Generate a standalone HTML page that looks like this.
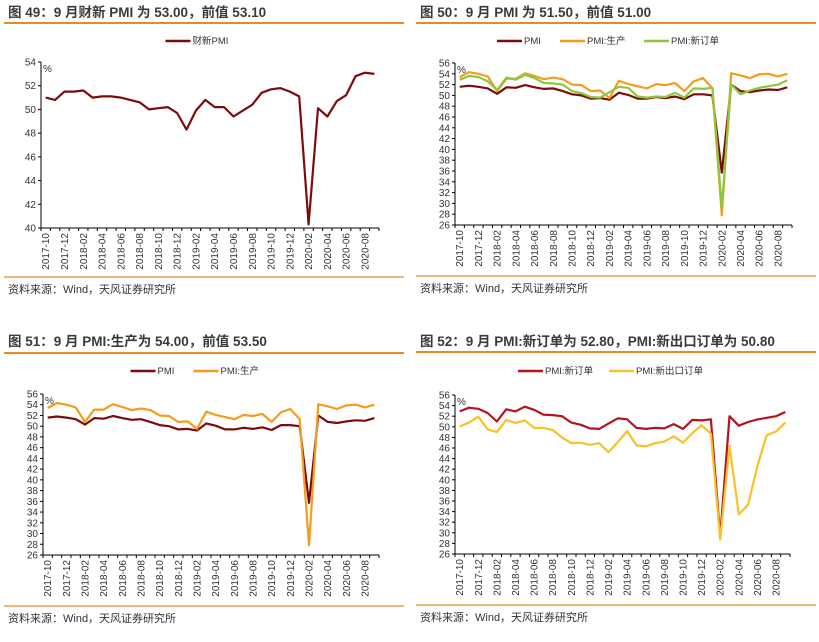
<!DOCTYPE html>
<html><head><meta charset="utf-8">
<style>
body{margin:0;background:#fff;width:819px;height:642px;overflow:hidden;font-family:"Liberation Sans","Noto Sans CJK SC",sans-serif;}
svg{display:block}
.t{font-size:13.5px;font-weight:bold;fill:#3a3a3a}
.s{font-size:11px;fill:#333}
.tk{font-size:10px;fill:#333}
.lg{font-size:9.5px;fill:#333}
</style></head><body>
<svg id="c" width="819" height="642" xmlns="http://www.w3.org/2000/svg"></svg>
<script>
const months = [];
for (let i = 0; i < 36; i++) { const y = 2017 + Math.floor((9 + i) / 12); const m = (9 + i) % 12 + 1; months.push(y + '-' + (m < 10 ? '0' + m : m)); }
const caixinPMI = [51.0,50.8,51.5,51.5,51.6,51.0,51.1,51.1,51.0,50.8,50.6,50.0,50.1,50.2,49.7,48.3,49.9,50.8,50.2,50.2,49.4,49.9,50.4,51.4,51.7,51.8,51.5,51.1,40.3,50.1,49.4,50.7,51.2,52.8,53.1,53.0];
const pmi = [51.6,51.8,51.6,51.3,50.3,51.5,51.4,51.9,51.5,51.2,51.3,50.8,50.2,50.0,49.4,49.5,49.2,50.5,50.1,49.4,49.4,49.7,49.5,49.8,49.3,50.2,50.2,50.0,35.7,52.0,50.8,50.6,50.9,51.1,51.0,51.5];
const production = [53.4,54.3,54.0,53.5,50.8,53.1,53.1,54.1,53.6,53.0,53.3,53.0,52.0,51.9,50.8,50.9,49.5,52.7,52.1,51.7,51.3,52.1,51.9,52.3,50.8,52.6,53.2,51.3,27.8,54.1,53.7,53.2,53.9,54.0,53.5,54.0];
const newOrders = [52.9,53.6,53.4,52.6,51.0,53.3,52.9,53.8,53.2,52.3,52.2,52.0,50.8,50.4,49.7,49.6,50.6,51.6,51.4,49.8,49.6,49.8,49.7,50.5,49.6,51.3,51.2,51.4,29.3,52.0,50.2,50.9,51.4,51.7,52.0,52.8];
const exportOrders = [50.1,50.8,51.9,49.5,49.0,51.3,50.7,51.2,49.8,49.8,49.4,48.0,46.9,47.0,46.6,46.9,45.2,47.1,49.2,46.5,46.3,46.9,47.2,48.2,47.0,48.8,50.3,48.7,28.7,46.4,33.5,35.3,42.6,48.4,49.1,50.8];
const ticks1 = [40,42,44,46,48,50,52,54];
const ticks2 = [26,28,30,32,34,36,38,40,42,44,46,48,50,52,54,56];

const NS = 'http://www.w3.org/2000/svg';
const svg = document.getElementById('c');
function mk(tag, attrs, parent, text) {
  const e = document.createElementNS(NS, tag);
  for (const k in attrs) e.setAttribute(k, attrs[k]);
  if (text !== undefined) e.textContent = text;
  (parent || svg).appendChild(e);
  return e;
}
const DR = '#7B0C0C', OR = '#F39C1F', GR = '#8DC63F', RD = '#B4141E', YL = '#F5C22A';

function panel(cfg) {
  const g = mk('g', {});
  
  
  const tt = mk('text', {x: cfg.px + 4, y: cfg.ty, class: 't'}, g, cfg.title);
  
  
  const l1 = mk('line', {x1: cfg.px, x2: cfg.px + 400, y1: cfg.ly, y2: cfg.ly, stroke: '#E8892B', 'stroke-width': 2}, g);
  
  
  const l2 = mk('line', {x1: cfg.px, x2: cfg.px + 400, y1: cfg.by, y2: cfg.by, stroke: '#E8892B', 'stroke-width': 1.2}, g);
  
  
  const src = mk('text', {x: cfg.px + 4, y: cfg.by + 16, class: 's'}, g, '资料来源：Wind，天风证券研究所');
  
  
  const x0 = cfg.x0, x1 = cfg.x1, bw = (x1 - x0) / 36;
  const ymin = cfg.ticks[0], ymax = cfg.ticks[cfg.ticks.length - 1];
  const X = i => x0 + bw * (i + 0.5);
  const Y = v => cfg.yb - (v - ymin) / (ymax - ymin) * (cfg.yb - cfg.yt);
  const ax = mk('g', {}, g);
  
  
  mk('line', {x1: x0, x2: x0, y1: Y(ymax), y2: cfg.yb, stroke: '#000', 'stroke-width': 1}, ax);
  cfg.ticks.forEach(v => {
    mk('line', {x1: x0 - 3, x2: x0, y1: Y(v), y2: Y(v), stroke: '#000'}, ax);
    const tl = mk('text', {x: x0 - 5, y: Y(v) + 3.5, 'text-anchor': 'end', class: 'tk'}, ax, v);
    
    
  });
  const pc = mk('text', {x: x0 + 2, y: Y(ymax) + 10, class: 'tk'}, ax, '%');
  
  
  const xa = mk('g', {}, g);
  
  
  mk('line', {x1: x0, x2: x1, y1: cfg.yb, y2: cfg.yb, stroke: '#000'}, xa);
  for (let i = 0; i <= 36; i++) mk('line', {x1: x0 + bw * i, x2: x0 + bw * i, y1: cfg.yb, y2: cfg.yb + 3, stroke: '#000'}, xa);
  months.forEach((m, i) => {
    if (i % 2) return;
    const xl = mk('text', {x: 0, y: 0, 'text-anchor': 'end', class: 'tk', transform: 'translate(' + (X(i) + 3.5) + ',' + (cfg.yb + 5) + ') rotate(-90)'}, xa, m);
    
    
  });
  // legend
  let tw = 0;
  cfg.series.forEach(s => { tw += 28 + s.label.length * 7 + 14; });
  let lx = cfg.px + 200 - tw / 2;
  cfg.series.forEach(s => {
    const le = mk('g', {}, g);
    
    
    mk('line', {x1: lx, x2: lx + 25, y1: cfg.lgy - 3, y2: cfg.lgy - 3, stroke: s.color, 'stroke-width': 2.5}, le);
    mk('text', {x: lx + 27, y: cfg.lgy, class: 'lg'}, le, s.label);
    lx += 28 + s.label.length * 7 + 14;
  });
  cfg.series.forEach(s => {
    const p = mk('polyline', {points: s.data.map((v, i) => X(i).toFixed(1) + ',' + Y(v).toFixed(1)).join(' '), fill: 'none', stroke: s.color, 'stroke-width': 2.2, 'stroke-linejoin': 'round'}, g);
    
    
  });
}
panel({name:'chart-49', px:4, ty:17, ly:23, by:277, title:'图 49：9 月财新 PMI 为 53.00，前值 53.10', x0:41, x1:379, yt:62, yb:228, ticks:ticks1, lgy:44,
  series:[{name:'caixin-pmi-line', label:'财新PMI', color:DR, data:caixinPMI}]});
panel({name:'chart-50', px:416, ty:17, ly:23, by:276, title:'图 50：9 月 PMI 为 51.50，前值 51.00', x0:455, x1:792, yt:63, yb:225, ticks:ticks2, lgy:44,
  series:[{name:'pmi-line', label:'PMI', color:DR, data:pmi},{name:'production-line', label:'PMI:生产', color:OR, data:production},{name:'new-orders-line', label:'PMI:新订单', color:GR, data:newOrders}]});
panel({name:'chart-51', px:4, ty:346, ly:353, by:606, title:'图 51：9 月 PMI:生产为 54.00，前值 53.50', x0:43, x1:379, yt:394, yb:555, ticks:ticks2, lgy:374,
  series:[{name:'pmi-line', label:'PMI', color:DR, data:pmi},{name:'production-line', label:'PMI:生产', color:OR, data:production}]});
panel({name:'chart-52', px:416, ty:346, ly:352, by:605, title:'图 52：9 月 PMI:新订单为 52.80，PMI:新出口订单为 50.80', x0:455, x1:790, yt:395, yb:554, ticks:ticks2, lgy:374,
  series:[{name:'new-orders-line', label:'PMI:新订单', color:RD, data:newOrders},{name:'export-orders-line', label:'PMI:新出口订单', color:YL, data:exportOrders}]});
</script>
</body></html>
